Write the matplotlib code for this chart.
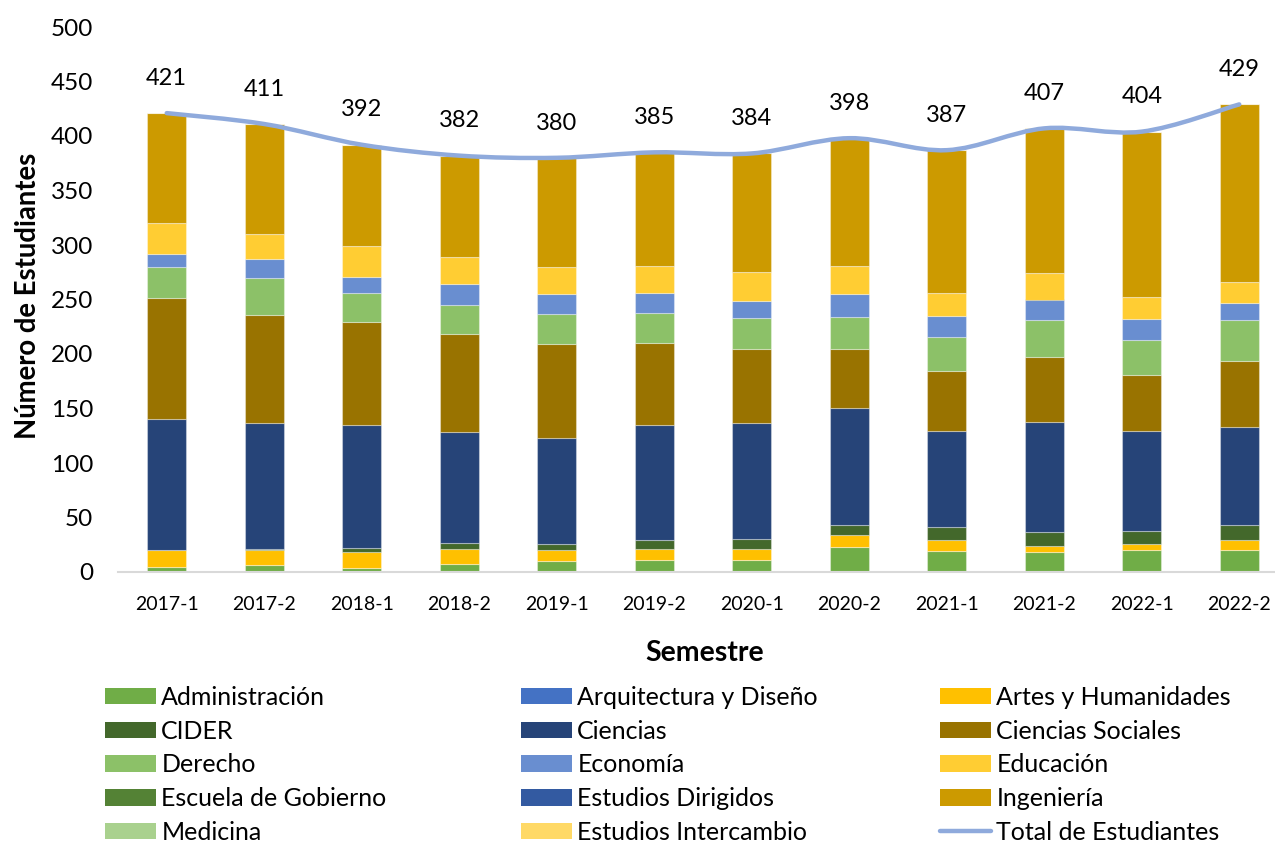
import numpy as np
import matplotlib
matplotlib.use('Agg')
import matplotlib.pyplot as plt
from matplotlib.path import Path
from matplotlib.patches import PathPatch, Patch
from matplotlib.lines import Line2D

plt.rcParams['font.family'] = ['Lato', 'DejaVu Sans']

# Data
semestres = ['2017-1', '2017-2', '2018-1', '2018-2', '2019-1', '2019-2',
             '2020-1', '2020-2', '2021-1', '2021-2', '2022-1', '2022-2']
administracion = [5, 6, 4, 7, 10, 11, 11, 23, 19, 18, 20, 20]
arquitectura = [0] * 12
artes = [15, 14, 14, 14, 10, 10, 10, 11, 10, 6, 6, 9]
cider = [0, 1, 4, 6, 6, 8, 9, 9, 12, 13, 12, 14]
ciencias = [120, 116, 113, 101, 97, 106, 107, 107, 88, 101, 91, 90]
ciencias_sociales = [111, 99, 94, 90, 86, 75, 68, 55, 55, 59, 52, 61]
derecho = [29, 34, 27, 27, 28, 28, 28, 29, 32, 34, 32, 37]
economia = [12, 17, 15, 19, 18, 18, 16, 21, 19, 19, 19, 16]
educacion = [28, 23, 28, 25, 25, 25, 26, 26, 21, 24, 20, 19]
escuela_gobierno = [0] * 12
estudios_dirigidos = [0] * 12
ingenieria = [101, 101, 93, 93, 100, 104, 109, 117, 131, 133, 152, 163]
medicina = [0] * 12
estudios_intercambio = [0] * 12
total = [421, 411, 392, 382, 380, 385, 384, 398, 387, 407, 404, 429]

series = [
    ('Administración', administracion, '#70AD47'),
    ('Arquitectura y Diseño', arquitectura, '#4472C4'),
    ('Artes y Humanidades', artes, '#FFC000'),
    ('CIDER', cider, '#43682B'),
    ('Ciencias', ciencias, '#264478'),
    ('Ciencias Sociales', ciencias_sociales, '#997300'),
    ('Derecho', derecho, '#8CC168'),
    ('Economía', economia, '#698ED0'),
    ('Educación', educacion, '#FFCD33'),
    ('Escuela de Gobierno', escuela_gobierno, '#548235'),
    ('Estudios Dirigidos', estudios_dirigidos, '#335AA1'),
    ('Ingeniería', ingenieria, '#CC9A00'),
    ('Medicina', medicina, '#A9D18E'),
    ('Estudios Intercambio', estudios_intercambio, '#FFD966'),
]
line_color = '#8FAADC'

fig = plt.figure(figsize=(12.75, 8.46), dpi=100)
ax = fig.add_axes([118 / 1275, 274 / 846, 1170 / 1275, 545 / 846])

x = np.arange(len(semestres))
bottom = np.zeros(len(semestres))
handles = []
for name, vals, col in series:
    vals = np.array(vals, dtype=float)
    ax.bar(x, vals, width=0.4, bottom=bottom, color=col,
           edgecolor=(1, 1, 1, 0.35), linewidth=0.8, zorder=2)
    bottom += vals
    handles.append(Patch(facecolor=col, label=name))

# smoothed total line (cubic bezier through the points)
pts = np.column_stack([x, total]).astype(float)
verts = [tuple(pts[0])]
codes = [Path.MOVETO]
n = len(pts)
for i in range(n - 1):
    p0 = pts[max(i - 1, 0)]
    p1 = pts[i]
    p2 = pts[i + 1]
    p3 = pts[min(i + 2, n - 1)]
    c1 = p1 + (p2 - p0) / 6.0
    c2 = p2 - (p3 - p1) / 6.0
    verts += [tuple(c1), tuple(c2), tuple(p2)]
    codes += [Path.CURVE4] * 3
ax.add_patch(PathPatch(Path(verts, codes), facecolor='none', edgecolor=line_color,
                       linewidth=3.2, capstyle='round', joinstyle='round', zorder=3))
handles.append(Line2D([0], [0], color=line_color, linewidth=3.2,
                      solid_capstyle='round', label='Total de Estudiantes'))

for xi, t in zip(x, total):
    ax.annotate(str(t), (xi, t), xytext=(0, 25), textcoords='offset points',
                ha='center', va='center', fontsize=17, color='black')

ax.set_xlim(-0.5, len(semestres) - 0.5)
ax.set_ylim(0, 500)
ax.set_yticks(range(0, 501, 50))
ax.set_xticks(x)
ax.set_xticklabels(semestres)
ax.tick_params(axis='y', length=0, pad=18, labelsize=17.5)
ax.tick_params(axis='x', length=0, pad=17, labelsize=14)
for s in ['top', 'right', 'left']:
    ax.spines[s].set_visible(False)
ax.spines['bottom'].set_color('#D9D9D9')
ax.spines['bottom'].set_linewidth(1.5)

fig.text(28 / 1275, 1 - 296 / 846, 'Número de Estudiantes', rotation=90,
         ha='center', va='center', fontsize=19.8, fontweight='bold')
fig.text(705 / 1275, 1 - 653 / 846, 'Semestre', ha='center', va='center',
         fontsize=20.5, fontweight='bold')

# legend: three columns, filled row by row
col_x = [105, 521, 940]
for c in range(3):
    leg = fig.legend(handles=handles[c::3], loc='upper left',
                     bbox_to_anchor=(col_x[c] / 1275, 1 - 686 / 846),
                     frameon=False, fontsize=18, handlelength=2.05,
                     handleheight=0.64, handletextpad=0.2, labelspacing=0.43,
                     borderaxespad=0, borderpad=0)

fig.savefig('out.png', dpi=100)
